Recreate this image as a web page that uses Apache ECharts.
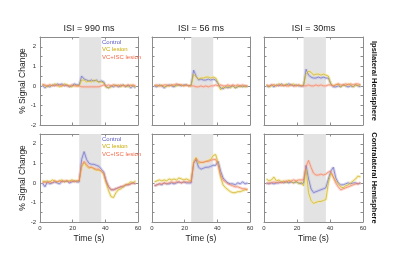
<!DOCTYPE html>
<html>
<head>
<meta charset="utf-8">
<script src="https://cdn.jsdelivr.net/npm/echarts@6/dist/echarts.min.js"></script>
<style>
  html, body { margin: 0; background: #fff; }
  #chart { width: 400px; height: 259px; }
</style>
</head>
<body>
<div id="chart"></div>
<script>
// time samples (s)
const times = [1.5, 3, 4.5, 6, 7.5, 9, 10.5, 12, 13.5, 15, 16.5, 18, 19.5, 21, 22.5,
  24, 25.5, 27, 28.5, 30, 31.5, 33, 34.5, 36, 37.5, 39, 40.5, 42, 43.5, 45,
  46.5, 48, 49.5, 51, 52.5, 54, 55.5, 57, 58.5];
const stimulus = [24, 37.5];
const seriesNames = ['Control', 'VC lesion', 'VC+ISC lesion'];
const isiTitles = ['ISI = 990 ms', 'ISI = 56 ms', 'ISI = 30ms'];
const rowLabels = ['Ipsilateral Hemisphere', 'Contralateral Hemisphere'];

// ipsilateral hemisphere
const ipsi990Control = [0.05,-0.1,0,-0.05,0.05,0,0.1,0.05,0.1,0,0.05,-0.05,0,0.1,0.05, 0.05,0.5,0.35,0.3,0.25,0.3,0.25,0.3,0.2,0.25, 0.2,-0.05,-0.1,0,-0.05,0.05,-0.05,0,0.05,-0.05, 0.05,-0.1,0,-0.1];
const ipsi990VC = [0.1,0,-0.05,0.05,0,0.1,0.05,-0.05,0,0.1,0.05,0,-0.05,0.05,0, 0,0.3,0.3,0.2,0.25,0.2,0.3,0.25,0.2,0.2, 0.15,-0.05,-0.1,-0.05,0.05,0,0.05,-0.05,0.05,0, -0.05,0.05,0,-0.05];
const ipsi990ISC = [0.05,0.05,0,0.05,0,0.05,0,0.05,0,0.05,0,0,0.05,0,0, 0,-0.05,-0.05,-0.05,-0.05,-0.05,-0.05,-0.05,-0.05,0, 0.05,0,0.05,0,0.05,0,0,0.05,0,0, 0.05,0,0.05,0];

const ipsi56Control = [0,-0.05,0.05,0,-0.1,0,0.05,0,-0.05,0.05,0.05,0,0.05,0.05,0, 0.05,0.8,0.5,0.3,0.35,0.3,0.3,0.35,0.3,0.35, 0.3,0.1,-0.1,-0.15,-0.05,-0.1,-0.05,0,-0.1,-0.05, 0,-0.05,0,-0.05];
const ipsi56VC = [0.05,0,0,0.05,-0.05,0,0,0.05,0,0,0.05,0.05,0,0.05,0, 0,0.6,0.45,0.35,0.4,0.4,0.45,0.45,0.4,0.45, 0.4,0.15,-0.2,-0.05,-0.1,0,-0.1,0,-0.1,0, -0.05,0,-0.05,0];
const ipsi56ISC = [0,0.05,0,0,0.05,0.05,0,0.05,0.05,0.1,0.05,0.05,0,0.05,0, 0,0,-0.05,-0.05,0,-0.05,0,-0.05,0,0, 0.05,0,0.05,0,0,0.05,0,0.05,0,0.05, 0,0.05,0,0];

const ipsi30Control = [0,-0.05,0.05,-0.05,0.05,0,0.1,0,0.05,0.1,0.05,0,0.05,0,0, 0,0.85,0.55,0.45,0.4,0.4,0.45,0.4,0.45,0.4, 0.4,0.1,-0.05,-0.05,0,-0.05,0.05,0,-0.05,0, -0.05,0.05,0,-0.05];
const ipsi30VC = [0.05,-0.05,0,0.05,0,0.1,0.05,0,0.1,0,0.05,0.1,0,0.05,0, 0.05,0.6,0.75,0.7,0.55,0.6,0.6,0.55,0.6,0.55, 0.5,0.1,0,0.05,0.1,-0.05,0.05,0,0.1,0.05, -0.05,0.05,0,0.05];
const ipsi30ISC = [0.05,0,0.05,0.05,0,0.05,0,0.05,0,0,0.05,0,0,0.05,0, 0,0,0.05,0,0,0.05,0,0.05,0,0, 0.05,0.05,0,0.05,0.1,0.05,0.05,0.1,0.05,0.1, 0.05,0.1,0.1,0.05];

// contralateral hemisphere
const contra990Control = [0,-0.2,0.05,-0.05,0,0.05,0,-0.05,0.1,0.05,0.1,0,0.05,0.1,0.05, 0.05,1.2,1.6,1.2,1.0,0.95,0.95,0.9,0.85,0.7, 0.55,0.1,-0.2,-0.35,-0.35,-0.3,-0.25,-0.2,-0.2,-0.1, -0.1,-0.05,0,-0.05];
const contra990VC = [0.1,0.05,0.1,0.05,0.15,0.1,0.05,0.1,0.15,0.05,0.1,0.1,0.15,0.1,0.1, 0.1,0.8,1.05,0.85,0.75,0.8,0.7,0.65,0.65,0.6, 0.45,0,-0.4,-0.7,-0.75,-0.5,-0.35,-0.3,-0.2,-0.1, -0.05,0.05,0,0.1];
const contra990ISC = [0,0.05,0,0.05,0,0.1,0.05,0.1,0.05,0.1,0.1,0.05,0.1,0.05,0.1, 0.1,0.9,1.1,0.95,0.8,0.8,0.75,0.7,0.7,0.6, 0.5,0.05,-0.2,-0.35,-0.35,-0.3,-0.25,-0.2,-0.15,-0.1, -0.1,-0.05,0,-0.05];

const contra56Control = [-0.15,-0.1,-0.05,-0.1,0,-0.05,-0.05,0,-0.05,0,0.05,0,0.05,0,0, 0,1.0,1.2,0.8,0.7,0.75,0.8,0.8,0.85,0.9, 0.9,1.1,0.6,0.25,0.1,0,-0.05,-0.05,-0.1,0, -0.05,0.05,-0.05,0];
const contra56VC = [0.05,0.1,0.15,0.1,0.15,0.1,0.2,0.15,0.2,0.15,0.25,0.2,0.15,0.2,0.15, 0.1,1.1,1.3,1.0,1.05,1.05,1.1,1.15,1.2,1.4, 1.45,1.0,0.3,-0.1,-0.25,-0.35,-0.45,-0.5,-0.5,-0.45, -0.45,-0.4,-0.35,-0.35];
const contra56ISC = [-0.15,-0.1,-0.05,-0.05,0,-0.05,0,0.05,0,0.05,0.05,0,0.05,0.05,0.05, 0.05,1.0,1.25,1.1,1.05,1.05,1.1,1.1,1.15,1.2, 1.2,0.9,0.4,0.15,0.05,-0.05,-0.1,-0.15,-0.2,-0.2, -0.25,-0.3,-0.3,-0.35];

const contra30Control = [0,-0.05,0,-0.05,0,0,0.05,0,0.05,0,0.05,0,0.05,0,-0.05, 0,0.9,0.2,-0.3,-0.5,-0.45,-0.4,-0.35,-0.3,-0.25, 0.2,0.6,0.8,0.25,0,-0.1,-0.1,-0.05,0,-0.05, 0,0,-0.05,0];
const contra30VC = [0.2,0.1,0.15,0.3,0.1,0.15,0.05,0.1,0,0.15,0.05,0,0.1,-0.05,0.05, -0.15,0.7,-0.5,-0.9,-1.05,-1.0,-0.95,-0.95,-0.9,-0.85, 0,0.5,0.3,0.1,-0.05,-0.2,-0.25,-0.15,-0.1,0, 0.1,0.2,0.35,0.3];
const contra30ISC = [-0.05,0,0,0.05,0,0.05,0,0.05,0.1,0.05,0.1,0.15,0.1,0.15,0.15, 0.15,0.85,1.15,0.8,0.5,0.4,0.4,0.45,0.4,0.45, 0.55,0.6,0.3,0,-0.2,-0.35,-0.3,-0.25,-0.2,-0.15, -0.1,-0.05,-0.05,0];

const panels = [
  [ipsi990Control, ipsi990VC, ipsi990ISC],
  [ipsi56Control, ipsi56VC, ipsi56ISC],
  [ipsi30Control, ipsi30VC, ipsi30ISC],
  [contra990Control, contra990VC, contra990ISC],
  [contra56Control, contra56VC, contra56ISC],
  [contra30Control, contra30VC, contra30ISC]
];

const lineColors = ['#7070c0', '#ccb020', '#ee8060'];
const bandColors = ['#c2c2ea', '#f2e6a0', '#fac4b4'];
const textColors = ['#5a5ac4', '#c8a800', '#f06a48'];
const font = 'Liberation Sans';

const gridLefts = [40, 152, 264];
const gridWidths = [98, 98, 99];
const gridTops = [37, 134];
const gridHeight = 88;
const axisColor = '#8c8c8c';

const grids = [], xAxes = [], yAxes = [], series = [], titles = [];

panels.forEach((panel, p) => {
  const row = Math.floor(p / 3), col = p % 3;
  grids.push({ left: gridLefts[col], top: gridTops[row], width: gridWidths[col], height: gridHeight });

  const xBase = {
    gridIndex: p, type: 'value', min: 0, max: 60, interval: 20,
    axisLine: { onZero: false, lineStyle: { color: axisColor, width: 1 } },
    axisTick: { inside: true, length: 2.5, lineStyle: { color: axisColor } },
    splitLine: { show: false }
  };
  xAxes.push(Object.assign({}, xBase, {
    position: 'bottom',
    axisLabel: { show: row === 1, fontSize: 6, margin: 3, color: '#333', fontFamily: font },
    name: row === 1 ? 'Time (s)' : '',
    nameLocation: 'middle', nameGap: 12,
    nameTextStyle: { fontSize: 8.5, color: '#222', fontFamily: font }
  }));
  xAxes.push(Object.assign({}, xBase, { position: 'top', axisLabel: { show: false } }));

  const yBase = {
    gridIndex: p, type: 'value', min: -2, max: 2.5, interval: 0.5,
    axisLine: { onZero: false, lineStyle: { color: axisColor, width: 1 } },
    axisTick: { inside: true, length: 2.5, lineStyle: { color: axisColor } },
    splitLine: { show: false }
  };
  yAxes.push(Object.assign({}, yBase, {
    position: 'left',
    axisLabel: {
      show: col === 0, fontSize: 6, margin: 4, color: '#333', fontFamily: font,
      formatter: v => (Number.isInteger(v) && v <= 2) ? String(v) : ''
    },
    name: col === 0 ? '% Signal Change' : '',
    nameLocation: 'middle', nameGap: 13,
    nameTextStyle: { fontSize: 8.5, color: '#222', fontFamily: font }
  }));
  yAxes.push(Object.assign({}, yBase, { position: 'right', axisLabel: { show: false } }));

  // stimulus shading
  series.push({
    type: 'line', xAxisIndex: 2 * p, yAxisIndex: 2 * p, data: [], silent: true, z: 1,
    markArea: {
      silent: true, itemStyle: { color: '#e3e3e3' },
      data: [[{ xAxis: stimulus[0] }, { xAxis: stimulus[1] }]]
    }
  });

  panel.forEach((vals, k) => {
    const data = times.map((t, i) => [t, vals[i]]);
    series.push({
      name: seriesNames[k], type: 'line', xAxisIndex: 2 * p, yAxisIndex: 2 * p,
      data, showSymbol: false, silent: true, z: 2,
      itemStyle: { color: lineColors[k] },
      lineStyle: { width: 3, color: bandColors[k], opacity: 0.65 }
    });
    series.push({
      name: seriesNames[k], type: 'line', xAxisIndex: 2 * p, yAxisIndex: 2 * p,
      data, showSymbol: false, silent: true, z: 3,
      itemStyle: { color: lineColors[k] },
      lineStyle: { width: 0.7, color: lineColors[k] }
    });
  });
});

isiTitles.forEach((txt, col) => {
  titles.push({
    text: txt, left: gridLefts[col] + gridWidths[col] / 2, top: 24, textAlign: 'center', padding: 0,
    textStyle: { fontSize: 9, fontWeight: 'normal', color: '#222', fontFamily: font }
  });
});

const legendBase = {
  orient: 'vertical', left: 102, selectedMode: false, icon: 'none',
  itemWidth: 0, itemHeight: 6, itemGap: 1.5, padding: 0,
  data: seriesNames.map((n, k) => ({ name: n, icon: 'none', textStyle: { color: textColors[k] } })),
  textStyle: { fontSize: 6, fontFamily: font, padding: [0, 0, 0, -5] }
};

const chart = echarts.init(document.getElementById('chart'), null, { renderer: 'canvas' });
chart.setOption({
  animation: false,
  backgroundColor: '#fff',
  title: titles,
  legend: [
    Object.assign({}, legendBase, { top: 39 }),
    Object.assign({}, legendBase, { top: 136 })
  ],
  grid: grids,
  xAxis: xAxes,
  yAxis: yAxes,
  series: series,
  graphic: rowLabels.map((txt, row) => ({
    type: 'text', x: 374, y: gridTops[row] + gridHeight / 2, rotation: -Math.PI / 2,
    style: {
      text: txt, font: 'bold 7.5px "Liberation Sans"', fill: '#111',
      textAlign: 'center', textVerticalAlign: 'middle', align: 'center', verticalAlign: 'middle'
    }
  }))
});
</script>
</body>
</html>
